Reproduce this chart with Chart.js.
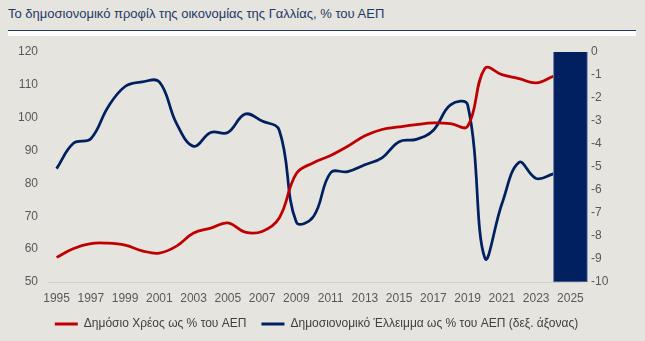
<!DOCTYPE html>
<html>
<head>
<meta charset="utf-8">
<script src="https://cdn.jsdelivr.net/npm/chart.js@4.4.1/dist/chart.umd.min.js"></script>
<style>
    html, body { margin: 0; padding: 0; background: #e5e4df; }
    #wrap { position: relative; width: 645px; height: 341px; overflow: hidden; }
    #title {
        position: absolute; left: 8px; top: 6px;
        font: 13px "Liberation Sans", Arial, sans-serif; color: #1f3864;
    }
    #rule { position: absolute; left: 8px; top: 30px; width: 628px; height: 1px; background: #1f3864; }
    #band { position: absolute; left: 8px; top: 31px; width: 628px; height: 5px; background: #ffffff; }
    #chartBox { position: absolute; left: 0; top: 0; width: 645px; height: 341px; }
</style>
</head>
<body>
<div id="wrap">
    <div id="title">Το δημοσιονομικό προφίλ της οικονομίας της Γαλλίας, % του ΑΕΠ</div>
    <div id="rule"></div>
    <div id="band"></div>
    <div id="chartBox"><canvas id="chart" width="645" height="341"></canvas></div>
</div>
<script>
// Έτη (άξονας x)
const years = ['1995', '1996', '1997', '1998', '1999', '2000', '2001', '2002', '2003', '2004',
               '2005', '2006', '2007', '2008', '2009', '2010', '2011', '2012', '2013', '2014',
               '2015', '2016', '2017', '2018', '2019', '2020', '2021', '2022', '2023', '2024', '2025'];

// Δημόσιο χρέος, % ΑΕΠ (αριστερός άξονας)
const debt = [57.5, 60.2, 61.7, 61.8, 61.2, 59.5, 58.8, 60.9, 64.9, 66.4,
              68.0, 65.2, 65.4, 69.5, 83.0, 86.3, 88.5, 91.3, 94.5, 96.4,
              97.2, 97.9, 98.4, 98.2, 97.4, 115.0, 113.1, 111.9, 110.6, 112.6, null];

// Δημοσιονομικό έλλειμμα, % ΑΕΠ (δεξιός άξονας)
const deficit = [-5.07, -3.96, -3.77, -2.4, -1.5, -1.3, -1.3, -3.1, -4.1, -3.5,
                 -3.5, -2.7, -3.0, -3.4, -7.4, -7.15, -5.25, -5.2, -4.9, -4.6,
                 -3.9, -3.8, -3.4, -2.3, -2.3, -8.95, -6.6, -4.8, -5.5, -5.3, null];

// Σκιασμένη περιοχή (2025)
const shade = [null, null, null, null, null, null, null, null, null, null,
               null, null, null, null, null, null, null, null, null, null,
               null, null, null, null, null, null, null, null, null, null, -10];

const leftTicks = [50, 60, 70, 80, 90, 100, 110, 120];
const rightTicks = [0, -1, -2, -3, -4, -5, -6, -7, -8, -9, -10];

const RED = '#c00000';
const NAVY = '#002060';
const TICK = '#595959';
const FONT = '"Liberation Sans", Arial, sans-serif';

Chart.defaults.font.family = FONT;
Chart.defaults.font.size = 12;
Chart.defaults.color = TICK;

new Chart(document.getElementById('chart').getContext('2d'), {
    data: {
        labels: years,
        datasets: [
            {
                type: 'line',
                label: 'Δημόσιο Χρέος ως % του ΑΕΠ',
                data: debt,
                yAxisID: 'y',
                borderColor: RED,
                backgroundColor: RED,
                borderWidth: 2.75,
                pointRadius: 0,
                tension: 0.4,
                order: 1
            },
            {
                type: 'line',
                label: 'Δημοσιονομικό Έλλειμμα ως % του ΑΕΠ (δεξ. άξονας)',
                data: deficit,
                yAxisID: 'y2',
                borderColor: NAVY,
                backgroundColor: NAVY,
                borderWidth: 2.75,
                pointRadius: 0,
                tension: 0.4,
                order: 2
            },
            {
                type: 'bar',
                label: 'shade',
                data: shade,
                yAxisID: 'y2',
                backgroundColor: NAVY,
                borderColor: '#5d6c99',
                borderWidth: 1,
                barThickness: 34,
                clip: false,
                order: 0
            }
        ]
    },
    options: {
        responsive: false,
        animation: false,
        layout: { padding: { top: 52, right: 12, bottom: 1, left: 0 } },
        plugins: {
            tooltip: { enabled: false },
            legend: {
                position: 'bottom',
                labels: {
                    boxWidth: 23,
                    boxHeight: 3,
                    padding: 15,
                    color: '#404040',
                    font: { size: 12 },
                    // δείγμα γραμμής χωρίς περίγραμμα
                    generateLabels: chart => Chart.defaults.plugins.legend.labels
                        .generateLabels(chart)
                        .map(l => Object.assign(l, { lineWidth: 0 })),
                    filter: item => item.text !== 'shade'
                }
            }
        },
        scales: {
            x: {
                afterFit: s => { s.height = 21; },
                grid: { display: false, drawTicks: false },
                border: { display: true, color: '#d0d0d0' },
                ticks: {
                    autoSkip: false,
                    maxRotation: 0,
                    padding: 9,
                    color: TICK,
                    callback: (v, i) => (i % 2 === 0 ? years[i] : '')
                }
            },
            y: {
                position: 'left',
                min: 50,
                max: 120,
                afterBuildTicks: s => { s.ticks = leftTicks.map(v => ({ value: v })); },
                afterFit: s => { s.width = 48; },
                grid: { display: false, drawTicks: false },
                border: { display: false },
                ticks: { padding: 10, color: TICK }
            },
            y2: {
                position: 'right',
                min: -10,
                max: 0,
                afterBuildTicks: s => { s.ticks = rightTicks.map(v => ({ value: v })); },
                afterFit: s => { s.width = 54; },
                grid: { display: false, drawTicks: false },
                border: { display: false },
                ticks: { padding: 12, color: TICK }
            }
        }
    }
});
</script>
</body>
</html>
